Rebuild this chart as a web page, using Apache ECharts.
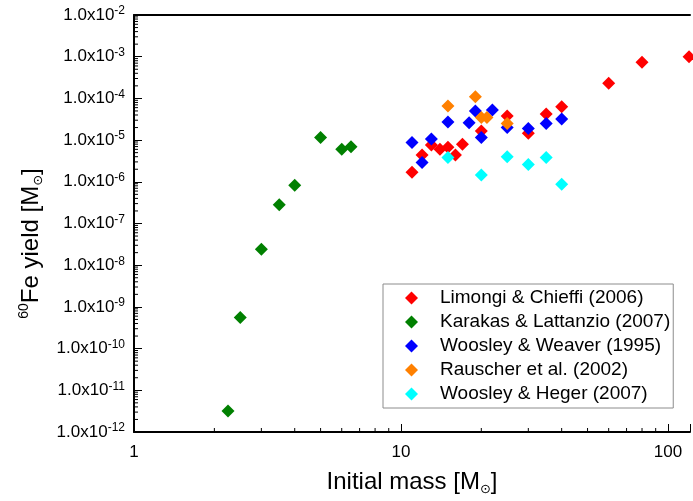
<!DOCTYPE html>
<html>
<head>
<meta charset="utf-8">
<script src="https://cdn.jsdelivr.net/npm/echarts@6/dist/echarts.min.js"></script>
<style>
  html, body { margin: 0; padding: 0; background: #fff; }
  #fe60_yield { width: 693px; height: 501px; }
</style>
</head>
<body>
<div id="fe60_yield"></div>
<script>
  // initial mass [Msun] and 60Fe yield [Msun] per model set
  const massLC = [11, 12, 13, 14, 15, 16, 17, 20, 25, 30, 35, 40, 60, 80, 120];
  const yieldLC = [1.7e-6, 4.4e-6, 7.6e-6, 6.0e-6, 6.7e-6, 4.4e-6, 7.9e-6, 1.65e-5, 3.8e-5, 1.45e-5, 4.2e-5, 6.3e-5, 2.3e-4, 7.4e-4, 1.0e-3];

  const massKL = [2.25, 2.5, 3, 3.5, 4, 5, 6, 6.5];
  const yieldKL = [3.2e-12, 5.6e-10, 2.4e-8, 2.8e-7, 8.3e-7, 1.16e-5, 6.0e-6, 6.9e-6];

  const massWW = [11, 12, 13, 15, 18, 19, 20, 22, 25, 30, 35, 40];
  const yieldWW = [8.8e-6, 2.9e-6, 1.06e-5, 2.7e-5, 2.6e-5, 5.0e-5, 1.15e-5, 5.3e-5, 2.0e-5, 1.9e-5, 2.5e-5, 3.2e-5];

  const massRA = [15, 19, 20, 21, 25];
  const yieldRA = [6.6e-5, 1.1e-4, 3.5e-5, 3.5e-5, 2.5e-5];

  const massWH = [15, 20, 25, 30, 35, 40];
  const yieldWH = [3.8e-6, 1.45e-6, 4.0e-6, 2.6e-6, 3.8e-6, 8.7e-7];

  const seriesNames = ['Limongi & Chieffi (2006)', 'Karakas & Lattanzio (2007)', 'Woosley & Weaver (1995)', 'Rauscher et al. (2002)', 'Woosley & Heger (2007)'];
  const seriesColors = ['#ff0000', '#008000', '#0000ff', '#ff8000', '#00ffff'];

  const xMin = 1, xMax = 121;
  const yMin = 1e-12, yMax = 1e-2;

  // minor log ticks (2..9 per decade)
  const xMinorTicks = [];
  for (let d = 1; d <= 10; d *= 10) {
    for (let k = 2; k <= 9; k++) xMinorTicks.push(k * d);
  }
  const yMinorTicks = [];
  for (let e = -12; e < -2; e++) {
    for (let k = 2; k <= 9; k++) yMinorTicks.push(k * Math.pow(10, e));
  }

  const font = 'Liberation Sans, Arial, Helvetica, sans-serif';

  function pairs(xs, ys) {
    return xs.map((x, i) => [x, ys[i]]);
  }

  const scatter = (i, xs, ys) => ({
    name: seriesNames[i],
    type: 'scatter',
    symbol: 'diamond',
    symbolSize: 13,
    itemStyle: { color: seriesColors[i], opacity: 1 },
    data: pairs(xs, ys),
    z: 3 + i
  });

  const chart = echarts.init(document.getElementById('fe60_yield'), null, { renderer: 'canvas' });

  const option = {
    animation: false,
    backgroundColor: '#fff',
    grid: {
      left: 134,
      top: 15,
      right: 0,
      bottom: 69
    },
    legend: {
      orient: 'vertical',
      left: 383,
      top: 284,
      icon: 'diamond',
      itemWidth: 13,
      itemHeight: 13,
      itemGap: 4,
      padding: [4, 3, 4, 22],
      borderColor: '#8c8c8c',
      borderWidth: 1,
      backgroundColor: '#fff',
      textStyle: {
        fontFamily: font,
        fontSize: 19,
        color: '#000',
        lineHeight: 20,
        padding: [0, 0, 0, 17]
      },
      data: seriesNames
    },
    xAxis: [
      {
        type: 'log',
        logBase: 10,
        min: xMin,
        max: xMax,
        name: '{t|Initial mass [M}{s|⊙}{t|]}',
        nameLocation: 'middle',
        nameGap: 36,
        nameTextStyle: {
          rich: {
            t: { fontFamily: font, fontSize: 24, color: '#000', lineHeight: 28 },
            s: { fontFamily: 'DejaVu Sans', fontSize: 13, color: '#000', lineHeight: 11, verticalAlign: 'bottom' }
          }
        },
        axisLine: { lineStyle: { color: '#000', width: 2 } },
        axisTick: { inside: true, length: 8, lineStyle: { color: '#000', width: 1 } },
        axisLabel: {
          margin: 12,
          fontFamily: font,
          fontSize: 17,
          color: '#000',
          formatter: v => (Math.abs(Math.log10(v) - Math.round(Math.log10(v))) < 1e-6 ? String(Math.round(v)) : '')
        },
        splitLine: { show: false }
      },
      {
        type: 'log',
        logBase: 10,
        min: xMin,
        max: xMax,
        position: 'top',
        axisLine: { lineStyle: { color: '#000', width: 2 } },
        axisTick: { show: false },
        axisLabel: { show: false },
        splitLine: { show: false }
      }
    ],
    yAxis: {
      type: 'log',
      logBase: 10,
      min: yMin,
      max: yMax,
      interval: 1,
      name: '{p|60}{t|Fe yield [M}{s|⊙}{t|]}',
      nameLocation: 'middle',
      nameGap: 89,
      nameRotate: 90,
      nameTextStyle: {
        padding: [0, 40, 0, 0],
        rich: {
          p: { fontFamily: font, fontSize: 14, color: '#000', lineHeight: 13, verticalAlign: 'top' },
          t: { fontFamily: font, fontSize: 24, color: '#000', lineHeight: 28 },
          s: { fontFamily: 'DejaVu Sans', fontSize: 13, color: '#000', lineHeight: 11, verticalAlign: 'bottom' }
        }
      },
      axisLine: { lineStyle: { color: '#000', width: 2 } },
      axisTick: { inside: true, length: 8, lineStyle: { color: '#000', width: 1 } },
      axisLabel: {
        margin: 9,
        formatter: v => '{b|1.0x10}{e|' + Math.round(Math.log10(v)) + '}',
        rich: {
          b: { fontFamily: font, fontSize: 17, color: '#000', lineHeight: 20 },
          e: { fontFamily: font, fontSize: 12, color: '#000', lineHeight: 12, verticalAlign: 'top' }
        }
      },
      splitLine: { show: false }
    },
    series: [
      scatter(0, massLC, yieldLC),
      scatter(1, massKL, yieldKL),
      scatter(2, massWW, yieldWW),
      scatter(3, massRA, yieldRA),
      scatter(4, massWH, yieldWH),
      {
        type: 'custom',
        silent: true,
        z: 1,
        renderItem: (params, api) => {
          const p = api.coord([api.value(0), yMin]);
          return {
            type: 'line',
            shape: { x1: p[0], y1: p[1], x2: p[0], y2: p[1] - 4 },
            style: { stroke: '#000', lineWidth: 1 }
          };
        },
        data: xMinorTicks.filter(v => v < xMax).map(v => [v])
      },
      {
        type: 'custom',
        silent: true,
        z: 1,
        renderItem: (params, api) => {
          const p = api.coord([xMin, api.value(0)]);
          return {
            type: 'line',
            shape: { x1: p[0], y1: p[1], x2: p[0] + 4, y2: p[1] },
            style: { stroke: '#000', lineWidth: 1 }
          };
        },
        encode: { y: 0 },
        data: yMinorTicks.map(v => [v])
      }
    ]
  };

  chart.setOption(option);
  window.addEventListener('resize', function () {
    chart.resize();
  });
</script>
</body>
</html>
